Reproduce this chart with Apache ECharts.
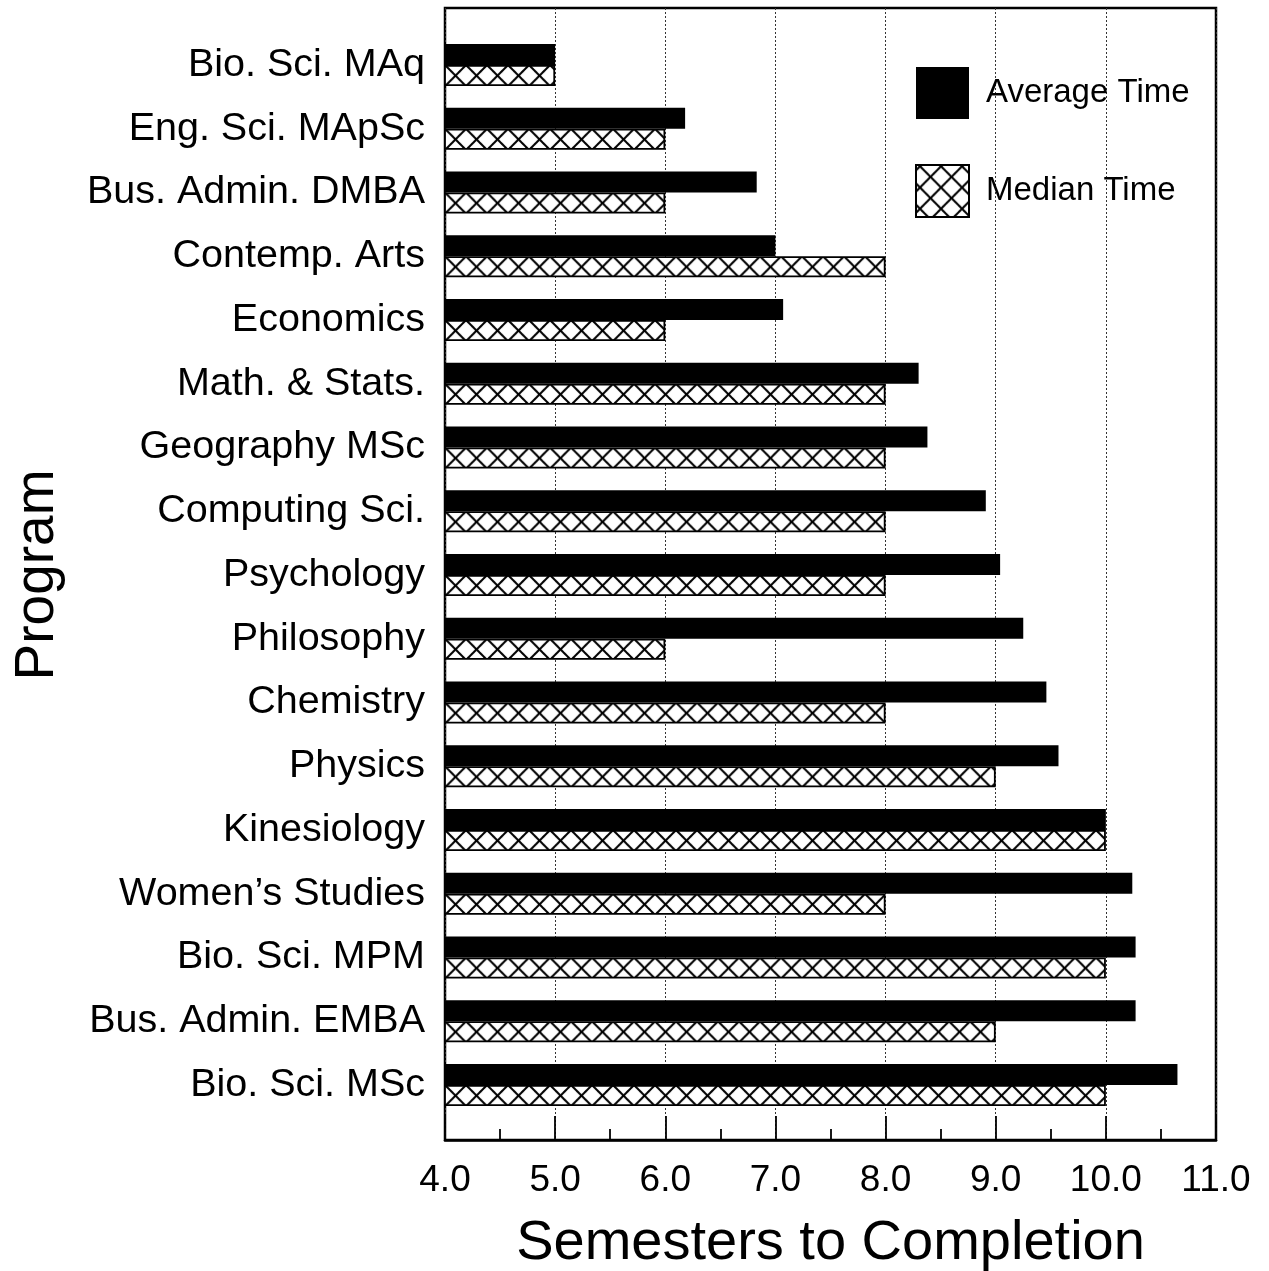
<!DOCTYPE html>
<html>
<head>
<meta charset="utf-8">
<script src="https://cdn.jsdelivr.net/npm/echarts@6/dist/echarts.min.js"></script>
<style>
  html, body { margin: 0; padding: 0; background: #fff; }
  #chart { width: 1269px; height: 1271px; }
</style>
</head>
<body>
<div id="chart"></div>
<script>
// ---- Data ----
var programs = ['Bio. Sci. MAq', 'Eng. Sci. MApSc', 'Bus. Admin. DMBA', 'Contemp. Arts', 'Economics',
  'Math. & Stats.', 'Geography MSc', 'Computing Sci.', 'Psychology', 'Philosophy', 'Chemistry',
  'Physics', 'Kinesiology', 'Women\u2019s Studies', 'Bio. Sci. MPM', 'Bus. Admin. EMBA', 'Bio. Sci. MSc'];
var averageTime = [5.0, 6.18, 6.83, 7.0, 7.07, 8.3, 8.38, 8.91, 9.04, 9.25, 9.46, 9.57, 10.0, 10.24, 10.27, 10.27, 10.65];
var medianTime  = [5.0, 6.0, 6.0, 8.0, 6.0, 8.0, 8.0, 8.0, 8.0, 6.0, 8.0, 9.0, 10.0, 8.0, 10.0, 9.0, 10.0];
var xTicks = [4, 5, 6, 7, 8, 9, 10, 11];
var seriesNames = ['Average Time', 'Median Time'];

// ---- Layout constants ----
var FONT = 'Liberation Sans, Arial, Helvetica, sans-serif';
var plotLeft = 445, plotRight = 1216, plotTop = 8, plotBottom = 1140;
var band = 63.75;
var barsTop = 33.1;
var barW = 21;

// crosshatch tile
var tile = 21;
var cv = document.createElement('canvas');
cv.width = tile; cv.height = tile;
var c = cv.getContext('2d');
c.fillStyle = '#fff'; c.fillRect(0, 0, tile, tile);
c.strokeStyle = '#000'; c.lineWidth = 2;
c.beginPath();
c.moveTo(0, 0); c.lineTo(tile, tile);
c.moveTo(tile, 0); c.lineTo(0, tile);
c.stroke();
var hatch = {
  image: cv, repeat: 'repeat',
  x: plotLeft, y: barsTop + band / 2, scaleX: 1, scaleY: (band / 3) / tile
};

var chart = echarts.init(document.getElementById('chart'), null, { renderer: 'canvas' });
var option = {
  backgroundColor: '#fff',
  animation: false,
  textStyle: { fontFamily: FONT, color: '#000' },
  legend: {
    orient: 'vertical',
    left: 915, top: 67,
    padding: 0,
    itemWidth: 53, itemHeight: 52, itemGap: 45,
    textStyle: { fontFamily: FONT, fontSize: 33, color: '#000', padding: [0, 0, 0, 12] },
    data: [{ name: seriesNames[0], icon: 'rect' }, { name: seriesNames[1], icon: 'rect' }]
  },
  grid: [
    { left: plotLeft, top: plotTop, width: plotRight - plotLeft, height: plotBottom - plotTop,
      outerBoundsMode: 'none',
      show: true, borderColor: '#000', borderWidth: 2.5, backgroundColor: 'transparent', containLabel: false },
    { left: plotLeft, top: barsTop, width: plotRight - plotLeft, height: band * programs.length,
      outerBoundsMode: 'none', containLabel: false }
  ],
  xAxis: [
    { gridIndex: 0, type: 'value', min: xTicks[0], max: xTicks[xTicks.length - 1], interval: 1,
      axisLine: { show: true, lineStyle: { color: '#000', width: 2.5 } },
      axisTick: { show: true, inside: true, length: 24, lineStyle: { color: '#000', width: 1.8 } },
      minorTick: { show: true, splitNumber: 2, length: 11, lineStyle: { color: '#000', width: 1.8 } },
      splitLine: { show: true, lineStyle: { color: '#333', width: 1, type: [2, 2] } },
      axisLabel: { fontFamily: FONT, fontSize: 37, color: '#000', margin: 22,
        formatter: function (v) { return v.toFixed(1); } },
      name: 'Semesters to Completion', nameLocation: 'middle', nameGap: 76,
      nameTextStyle: { fontFamily: FONT, fontSize: 56, color: '#000' }
    },
    { gridIndex: 1, type: 'value', min: xTicks[0], max: xTicks[xTicks.length - 1], show: false }
  ],
  yAxis: [
    { gridIndex: 0, type: 'value', show: false },
    { gridIndex: 1, type: 'category', inverse: true, data: programs,
      axisLine: { show: false }, axisTick: { show: false }, splitLine: { show: false },
      axisLabel: { fontFamily: FONT, fontSize: 39.5, color: '#000', margin: 20, padding: [13, 0, 0, 0] },
      name: 'Program', nameLocation: 'middle', nameGap: 380, nameRotate: 90,
      nameTextStyle: { fontFamily: FONT, fontSize: 55, color: '#000' }
    }
  ],
  series: [
    { name: seriesNames[0], type: 'bar', xAxisIndex: 1, yAxisIndex: 1, data: averageTime,
      barWidth: barW, barGap: '0%',
      itemStyle: { color: '#000', borderColor: '#000', borderWidth: 0 } },
    { name: seriesNames[1], type: 'bar', xAxisIndex: 1, yAxisIndex: 1, data: medianTime,
      barWidth: barW, barGap: '0%',
      itemStyle: { color: hatch, borderColor: '#000', borderWidth: 1.8 } }
  ]
};
chart.setOption(option);
</script>
</body>
</html>
